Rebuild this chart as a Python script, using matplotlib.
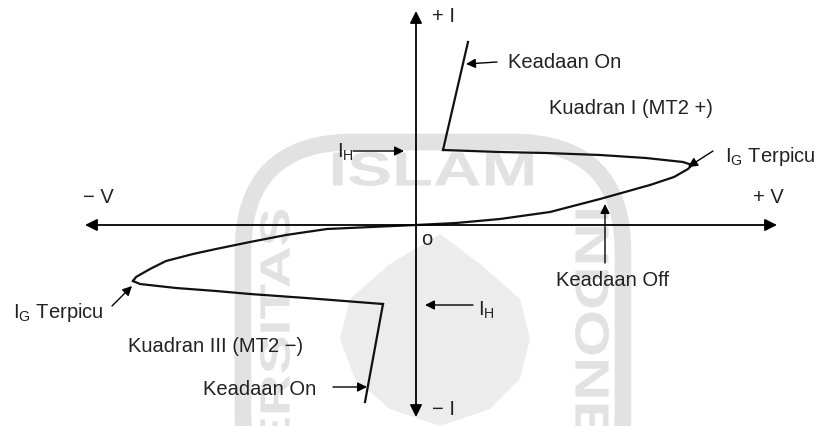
import matplotlib

matplotlib.use("Agg")
import matplotlib.pyplot as plt
from matplotlib.font_manager import FontProperties
from matplotlib.patches import FancyBboxPatch, PathPatch, Polygon
from matplotlib.textpath import TextPath
from matplotlib.transforms import Affine2D

plt.rcParams["font.family"] = ["Liberation Sans", "DejaVu Sans"]

# axis extents (V horizontal, I vertical), origin at the crossing
v_axis = [-331, 361]
i_axis = [-192, 214]

# quadrant I: off-state rise, breakover tip, return to holding level, on-state
q1_off_v = [0, 40, 84, 134, 184, 234, 258, 272, 276]
q1_off_i = [0, 2, 6, 13, 26, 40, 48, 56, 60]
q1_back_v = [276, 267, 230, 184, 130, 84, 27]
q1_back_i = [60, 63, 67, 70, 72, 73, 75]
q1_on_v = [27, 52]
q1_on_i = [75, 183]

# quadrant III: mirror of the above
q3_off_v = [0, -45, -89, -130, -166, -200, -223, -250, -266, -280, -283]
q3_off_i = [0, -2, -4, -10, -17, -24, -29, -36, -44, -52, -56]
q3_back_v = [-283, -276, -240, -200, -166, -110, -33]
q3_back_i = [-56, -59, -63, -66, -69, -73, -79]
q3_on_v = [-33, -51]
q3_on_i = [-79, -177]

# annotation arrows: (tail, head)
ann_arrows = [
    ((81, 163), (50, 161)),      # Keadaan On (I)
    ((-63, 74), (-12, 74)),      # I_H (I)
    ((297, 74), (272, 58)),      # I_G Terpicu (I)
    ((189, -38), (189, 21)),     # Keadaan Off
    ((57, -80), (9, -80)),       # I_H (III)
    ((-304, -81), (-284, -61)),  # I_G Terpicu (III)
    ((-83, -162), (-49, -162)),  # Keadaan On (III)
]

labels = [
    (16, 209, "+ I", "left"),
    (16, -184, "\u2212 I", "left"),
    (-318, 28, "\u2212 V", "center"),
    (352, 28, "+ V", "center"),
    (11, -14, "o", "center"),
    (92, 163, "Keadaan On", "left"),
    (133, 118, "Kuadran I (MT2 +)", "left"),
    (-79, 74, "I$_\\mathregular{H}$", "left"),
    (309, 69, "I$_\\mathregular{G}$ Terpicu", "left"),
    (196, -54, "Keadaan Off", "center"),
    (62, -84, "I$_\\mathregular{H}$", "left"),
    (-403, -87, "I$_\\mathregular{G}$ Terpicu", "left"),
    (-288, -121, "Kuadran III (MT2 \u2212)", "left"),
    (-213, -164, "Keadaan On", "left"),
]

# faint seal behind the diagram: (text, x, y, width, height, rotation)
seal_words = [
    ("ISLAM", 17, 56, 200, 34, 0),
    ("UNIVERSITAS", -141, -175, 380, 30, 90),
    ("INDONESIA", 176, -150, 330, 34, -90),
]
seal_arch = (-173, -300, 380, 383)   # left, bottom, width, height
seal_leaf = [(24, -9), (64, -39), (104, -74), (114, -114), (104, -154), (74, -184),
             (24, -201), (-26, -184), (-61, -154), (-76, -114), (-66, -74), (-26, -39)]
seal_color = "#e2e2e2"


def stretched_word(ax, s, x, y, w, h, rot):
    tp = TextPath((0, 0), s, size=1, prop=FontProperties(family="Liberation Sans", weight="bold"))
    ext = tp.get_extents()
    tr = (Affine2D().translate(-ext.x0 - ext.width / 2, -ext.y0 - ext.height / 2)
          .scale(w / ext.width, h / ext.height).rotate_deg(rot).translate(x, y))
    ax.add_patch(PathPatch(tr.transform_path(tp), facecolor=seal_color, edgecolor="none", zorder=0))


fig = plt.figure(figsize=(8.22, 4.27), dpi=100)
ax = fig.add_axes([0, 0, 1, 1])
ax.set_xlim(-416, 406)
ax.set_ylim(-201, 226)
ax.axis("off")

left, bottom, width, height = seal_arch
ax.add_patch(FancyBboxPatch((left, bottom), width, height,
                            boxstyle="round,pad=0,rounding_size=110",
                            facecolor="none", edgecolor=seal_color, lw=12, zorder=0))
ax.add_patch(Polygon(seal_leaf, closed=True, facecolor="#ececec", edgecolor="none", zorder=0))
for word in seal_words:
    stretched_word(ax, *word)

# axes with arrowheads at both ends
axis_style = dict(arrowstyle="<|-|>", color="black", lw=1.3, mutation_scale=18, shrinkA=0, shrinkB=0)
ax.annotate("", xy=(v_axis[1], 0), xytext=(v_axis[0], 0), arrowprops=axis_style)
ax.annotate("", xy=(0, i_axis[1]), xytext=(0, i_axis[0]), arrowprops=axis_style)

curve = dict(color="#111111", lw=1.6, solid_joinstyle="round")
for vs, is_ in [(q1_off_v, q1_off_i), (q1_back_v, q1_back_i), (q1_on_v, q1_on_i),
                (q3_off_v, q3_off_i), (q3_back_v, q3_back_i), (q3_on_v, q3_on_i)]:
    ax.plot(vs, is_, **curve)

for tail, head in ann_arrows:
    ax.annotate("", xy=head, xytext=tail,
                arrowprops=dict(arrowstyle="-|>", color="black", lw=1.0,
                                mutation_scale=14, shrinkA=0, shrinkB=0))

for x, y, s, ha in labels:
    ax.text(x, y, s, fontsize=14.5, ha=ha, va="center", color="#222222")

fig.savefig("out.png", dpi=100)
